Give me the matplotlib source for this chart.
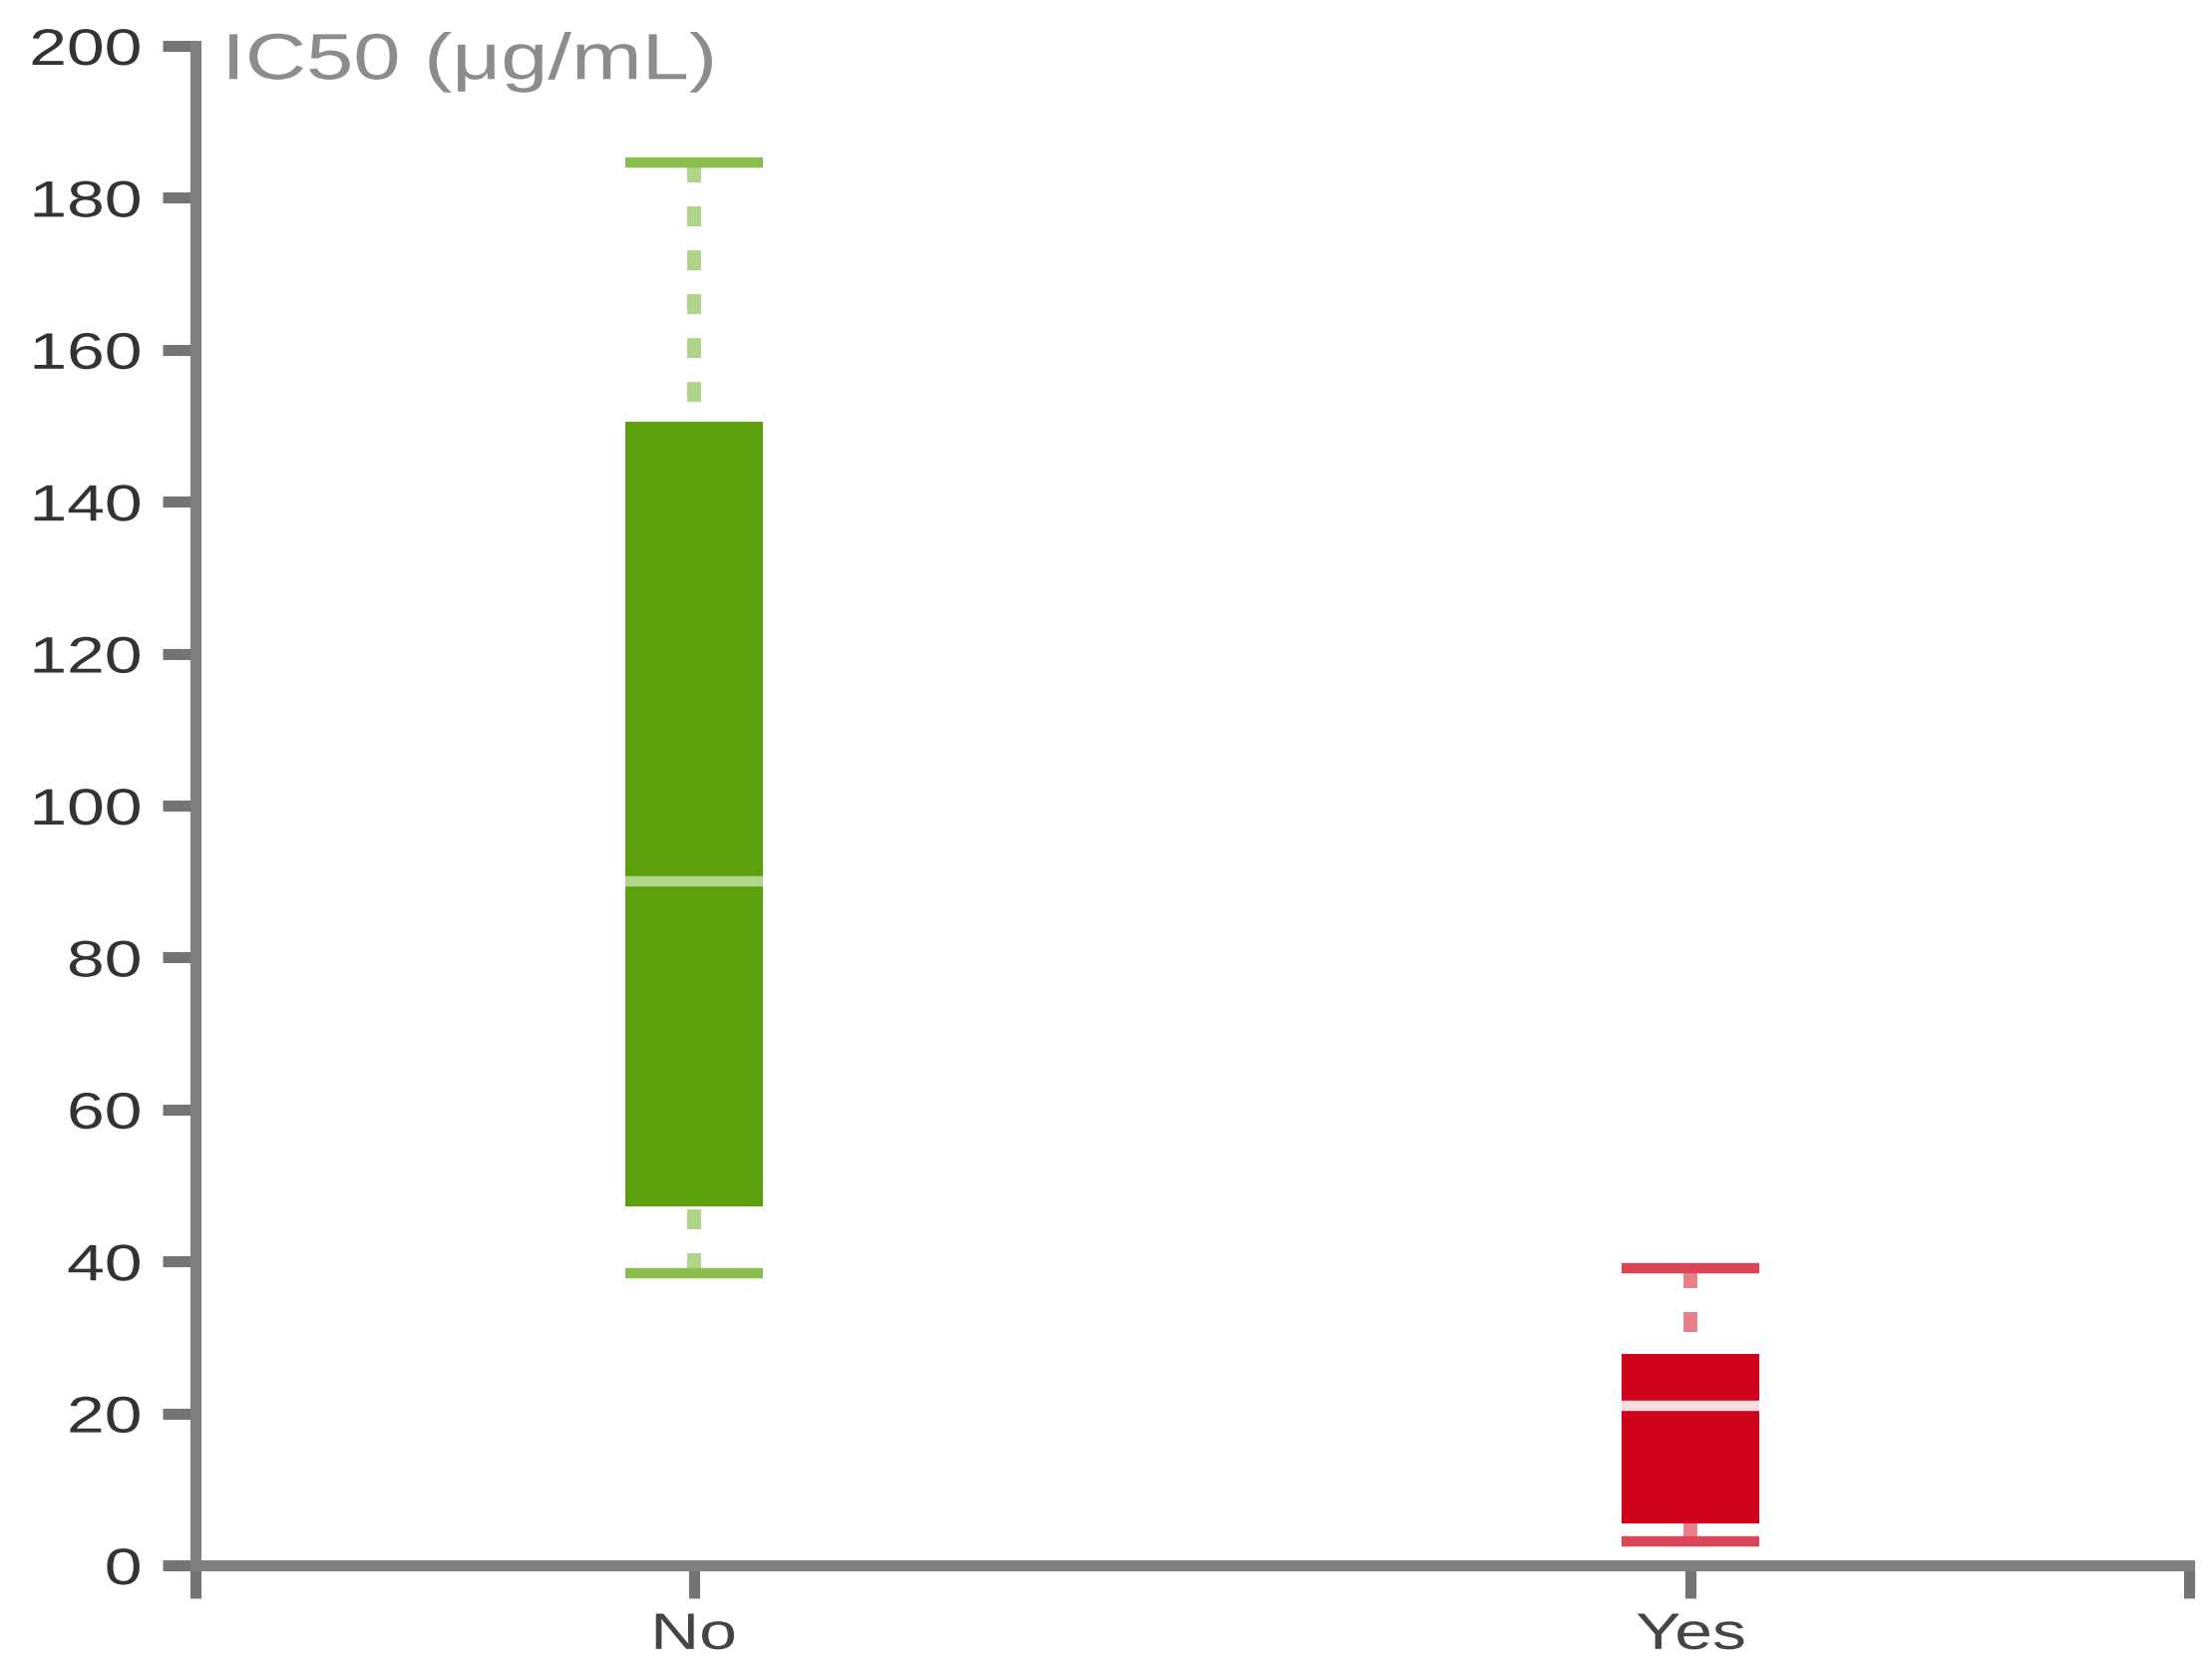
import matplotlib
matplotlib.use('Agg')
import matplotlib.pyplot as plt
from matplotlib.patheffects import AbstractPathEffect
from matplotlib.transforms import Affine2D

# data
groups = ['No', 'Yes']
whisker_low = [38.5, 3.1]
q1 = [47.2, 5.5]
median = [90.0, 21.0]
q3 = [150.5, 27.8]
whisker_high = [184.6, 39.1]
yticks = [0, 20, 40, 60, 80, 100, 120, 140, 160, 180, 200]

box_colors = ['#5da10e', '#d0021b']
whisker_colors = ['#b0d48a', '#e8808c']
cap_colors = ['#88bf4c', '#dc4458']
median_colors = ['#b3d58c', '#f7dde1']

plt.rcParams['font.family'] = ['Liberation Sans', 'DejaVu Sans']


class Stretch(AbstractPathEffect):
    '''widen the text a bit, the reference text is drawn wide'''
    def __init__(self, sx=1.32, anchor=0.0):
        super().__init__()
        self.sx = sx
        self.anchor = anchor

    def draw_path(self, renderer, gc, tpath, affine, rgbFace=None):
        ext = tpath.get_extents()
        x0 = ext.x0 + self.anchor * ext.width
        t = Affine2D().translate(-x0, 0).scale(self.sx, 1).translate(x0, 0)
        renderer.draw_path(gc, tpath, t + affine, rgbFace)


fig = plt.figure(figsize=(22.18, 16.72), dpi=100)
ax = fig.add_axes([0.0884, 0.0610, 0.9013, 0.9115])

stats = []
for i, g in enumerate(groups):
    stats.append({'label': g, 'whislo': whisker_low[i], 'q1': q1[i], 'med': median[i],
                  'q3': q3[i], 'whishi': whisker_high[i]})

bp = ax.bxp(stats, positions=[0, 1], widths=0.138, patch_artist=True, showfliers=False,
            capwidths=0.138,
            boxprops=dict(linewidth=0),
            whiskerprops=dict(linewidth=10, linestyle=(0, (1.44, 1.73)), zorder=1,
                              dash_capstyle='butt'),
            capprops=dict(linewidth=7.5, zorder=1, solid_capstyle='butt'),
            medianprops=dict(linewidth=7.5, zorder=3, solid_capstyle='butt'))

for i in range(len(groups)):
    bp['boxes'][i].set_facecolor(box_colors[i])
    bp['boxes'][i].set_edgecolor(box_colors[i])
    bp['medians'][i].set_color(median_colors[i])
    for w in bp['whiskers'][2 * i:2 * i + 2]:
        w.set_color(whisker_colors[i])
        # start the dashes at the cap end, like the reference
        w.set_xdata(w.get_xdata()[::-1])
        w.set_ydata(w.get_ydata()[::-1])
    for c in bp['caps'][2 * i:2 * i + 2]:
        c.set_color(cap_colors[i])

ax.set_xlim(-0.5, 1.5)
ax.set_ylim(0, 200)

ax.set_xticks([0, 1], labels=groups)
ax.set_xticks([-0.5, 1.5], minor=True)
ax.set_yticks(yticks, labels=[str(v) for v in yticks])

for s in ['top', 'right']:
    ax.spines[s].set_visible(False)
for s in ['left', 'bottom']:
    ax.spines[s].set_color('#808080')
    ax.spines[s].set_linewidth(8)

ax.tick_params(axis='both', which='both', length=24, width=8, color='#747474')
ax.tick_params(axis='y', labelsize=37, labelcolor='#333333', pad=15)
ax.tick_params(axis='x', labelsize=37, labelcolor='#444444', pad=9)

for lbl in ax.get_yticklabels():
    lbl.set_path_effects([Stretch(1.32, 1.0)])
for lbl in ax.get_xticklabels():
    lbl.set_path_effects([Stretch(1.32, 0.5)])

ylab = ax.text(-0.472, 201.8, 'IC50 (μg/mL)', fontsize=47, color='#8c8c8c',
               ha='left', va='top', clip_on=False)
ylab.set_path_effects([Stretch(1.3, 0.0)])

fig.savefig('out.png', dpi=100, facecolor='white')
